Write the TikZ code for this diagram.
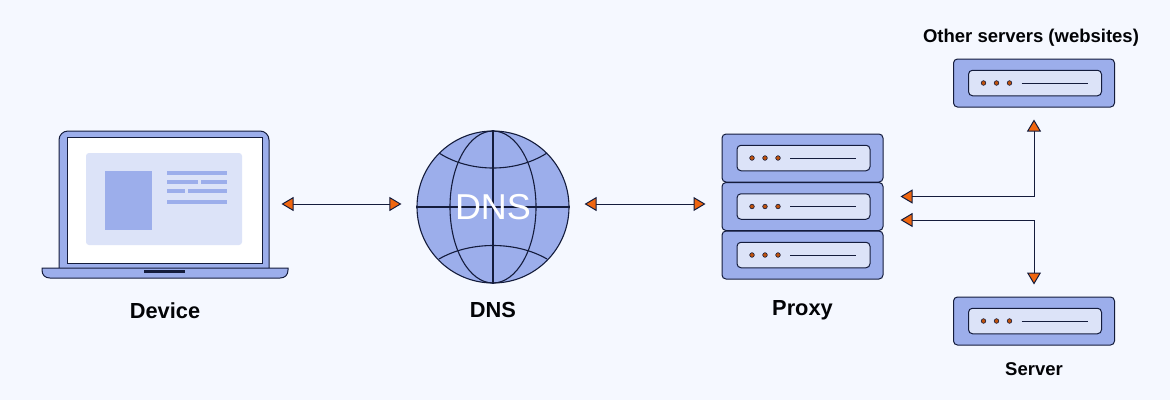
\documentclass[tikz,border=0pt]{standalone}
\usepackage{fontspec}
\setmainfont{Liberation Sans}
\usepackage{xcolor}
\usepackage{tikz}
\usetikzlibrary{positioning, arrows.meta}

\definecolor{pagebg}{HTML}{F5F8FF}
\definecolor{bodyblue}{HTML}{9CAEEB}
\definecolor{paleblue}{HTML}{DCE3F8}
\definecolor{inkblue}{HTML}{141C3C}
\definecolor{tiporange}{HTML}{F0660F}

% one rack unit: outer box, inner plate, three lights and a slot
\newcommand{\rackunit}[3]{
  \node[unitbody] (#1) at (#2,#3) {};
  \node[unitplate] (#1plate) at ([xshift=1pt]#1.center) {};
  \foreach \dx in {-50.5,-37.5,-24.5}
    \node[unitlight] at ([xshift=\dx pt]#1.center) {};
  \draw[thin line] ([xshift=-12.5pt]#1.center) -- ([xshift=53.5pt]#1.center);
}

\begin{document}
\begin{tikzpicture}[
        x=1pt,
        y=-1pt,
        node distance=20pt,
        thin line/.style={draw=inkblue, line width=1pt},
        unitbody/.style={
          draw=inkblue,
          fill=bodyblue,
          rounded corners=4pt,
          line width=1pt,
          minimum width=161pt,
          minimum height=48pt,
          inner sep=0pt
        },
        unitplate/.style={
          draw=inkblue,
          fill=paleblue,
          rounded corners=4pt,
          line width=1pt,
          minimum width=133pt,
          minimum height=25.5pt,
          inner sep=0pt
        },
        unitlight/.style={
          draw=inkblue,
          fill=tiporange!80!black,
          circle,
          line width=0.6pt,
          minimum size=4.6pt,
          inner sep=0pt
        },
        tag/.style={
          font=\bfseries\fontsize{21.8}{24}\selectfont,
          text=black!90!inkblue,
          inner sep=0pt
        },
        smalltag/.style={
          font=\bfseries\fontsize{18.5}{20}\selectfont,
          text=black!90!inkblue,
          inner sep=0pt
        },
        link/.style={
          draw=inkblue,
          line width=1pt,
          {Triangle[length=12pt,width=14pt,fill=tiporange]}-{Triangle[length=12pt,width=14pt,fill=tiporange]}
        },
        fillbar/.style={fill=bodyblue}
      ]
      \fill[pagebg] (0,0) rectangle (1170,400);

      % laptop
      \draw[fill=bodyblue, draw=inkblue, line width=1pt, rounded corners=9pt]
        (59,272) -- (59,131) -- (269,131) -- (269,272);
      \node[draw=inkblue, fill=white, line width=1pt, minimum width=195pt, minimum height=126pt, inner sep=0pt] (device) at (164.5,200) {};
      \draw[fill=bodyblue, draw=inkblue, line width=1pt]
        (42,268) -- (288,268) -- (288,270) .. controls (288,275) and (285,278) .. (280,278)
        -- (50,278) .. controls (45,278) and (42,275) .. (42,270) -- cycle;
      \coordinate (base) at (165,278);
      \fill[inkblue] (144,270) rectangle (185,273);
      \fill[paleblue, rounded corners=3pt] (86,153) rectangle (242,245);
      \fill[fillbar] (105,171) rectangle (152,230);
      \fill[fillbar] (167,171) rectangle (227,175);
      \fill[fillbar] (167,180) rectangle (198,184);
      \fill[fillbar] (201,180) rectangle (227,184);
      \fill[fillbar] (167,189) rectangle (185,193);
      \fill[fillbar] (187.5,189) rectangle (227,193);
      \fill[fillbar] (167,200) rectangle (227,204);

      % globe
      \node[draw=inkblue, fill=bodyblue, circle, line width=1.1pt, minimum size=152pt, inner sep=0pt] (dns) at (493,207) {};
      \draw[thin line, line width=1.1pt] (dns.center) ellipse [x radius=43, y radius=76];
      \draw[thin line, line width=1.1pt] (dns.north) -- (dns.south);
      \draw[thin line, line width=1.1pt] (dns.west) -- (dns.east);
      \draw[thin line, line width=1.1pt] (439,153) .. controls (470,173) and (516,173) .. (547,153);
      \draw[thin line, line width=1.1pt] (439,259) .. controls (470,241) and (516,241) .. (547,259);
      \node[text=white, font=\fontsize{36}{40}\selectfont, inner sep=0pt] (dnsword) at (dns.center) {DNS};

      % proxy and the two servers
      \rackunit{proxyA}{802.5}{158}
      \rackunit{proxyC}{802.5}{255}
      \rackunit{proxyB}{802.5}{206.5}
      \rackunit{other}{1034}{83}
      \rackunit{server}{1034}{321}

      \node[tag, below=24pt of base] (deviceTag) {Device};
      \node[tag, below=19pt of dns] (dnsTag) {DNS};
      \node[tag, below=21pt of proxyC] (proxyTag) {Proxy};
      \node[smalltag, above=12pt of other, xshift=-3pt] (otherTag) {Other servers (websites)};
      \node[smalltag, below=17pt of server] (serverTag) {Server};

      \coordinate (level) at (0,204);
      \draw[link, shorten <=19pt, shorten >=15pt] (device.east |- level) -- (dns.west |- level);
      \draw[link, shorten <=15pt, shorten >=16pt] (dns.east |- level) -- (proxyB.west |- level);
      \draw[link, shorten <=12pt, shorten >=17pt] (other.south) |- ([yshift=10pt]proxyB.east);
      \draw[link, shorten <=12pt, shorten >=17pt] (server.north) |- ([yshift=-13.5pt]proxyB.east);
    \end{tikzpicture}
\end{document}
